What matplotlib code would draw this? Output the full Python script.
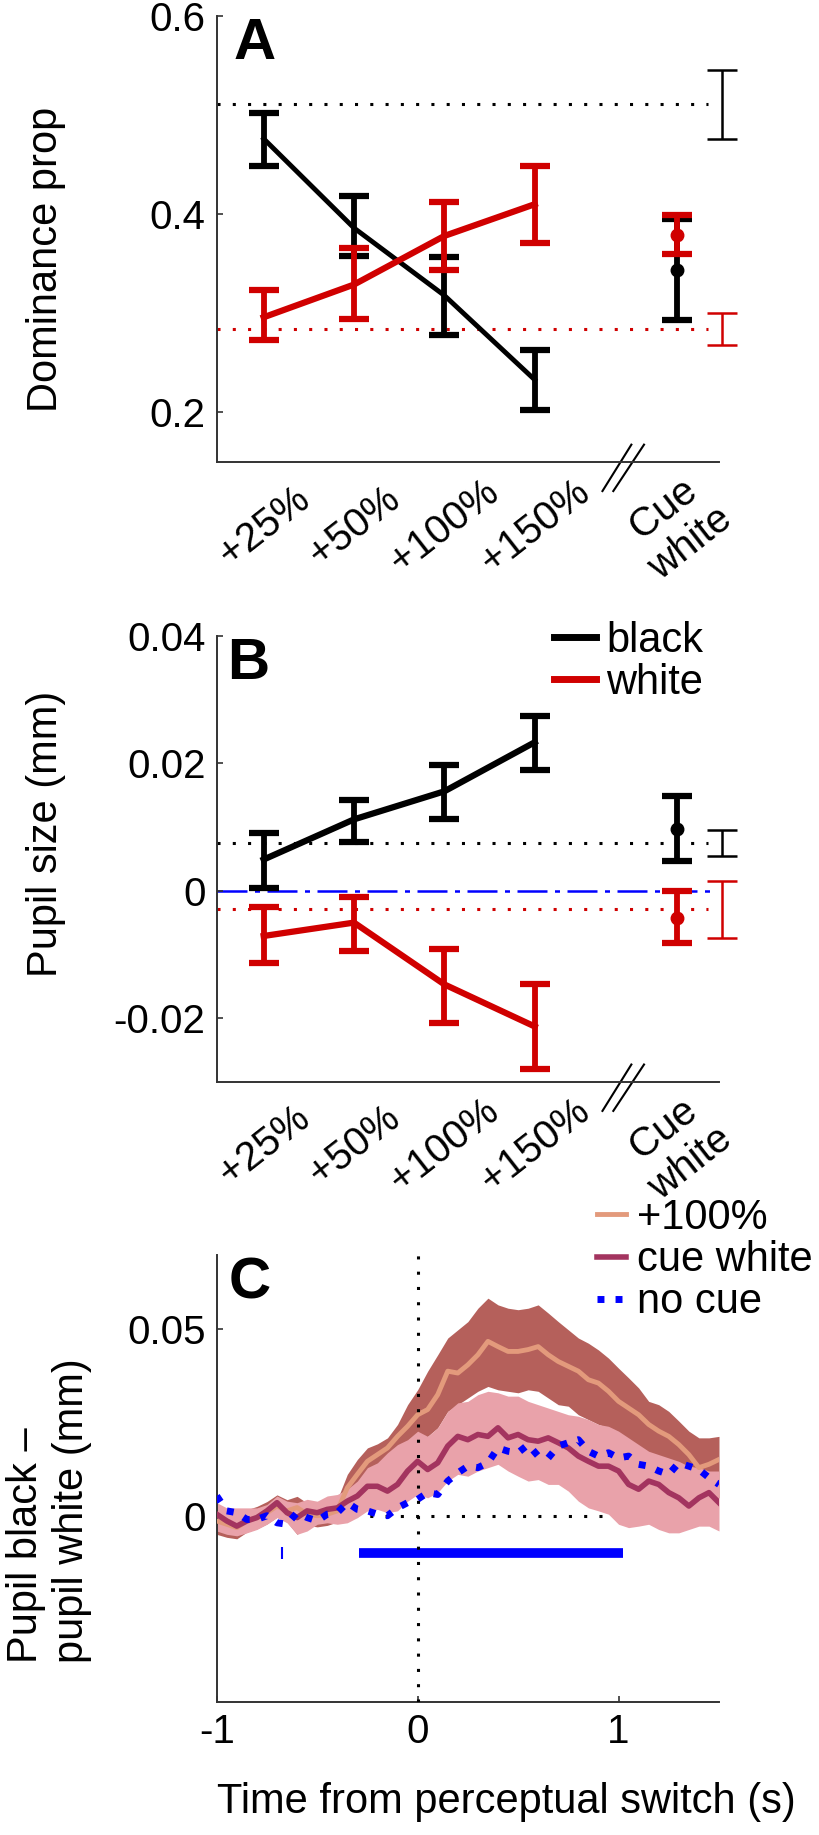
import numpy as np
import matplotlib
matplotlib.use('Agg')
import matplotlib.pyplot as plt
import matplotlib.transforms as mtransforms
from matplotlib.lines import Line2D

plt.rcParams['font.family'] = ['Liberation Sans', 'DejaVu Sans']

# ---- data ----
cats = ['+25%', '+50%', '+100%', '+150%', 'Cue\nwhite']

# A: dominance proportion (mean, lower, upper)
domBlack = [0.476, 0.386, 0.318, 0.233]
domBlackLo = [0.449, 0.358, 0.278, 0.2025]
domBlackHi = [0.502, 0.418, 0.357, 0.263]
domRed = [0.296, 0.329, 0.378, 0.410]
domRedLo = [0.273, 0.294, 0.344, 0.371]
domRedHi = [0.323, 0.366, 0.412, 0.449]
domCueBlack = [0.344, 0.293, 0.395]
domCueRed = [0.379, 0.360, 0.399]
domRefBlack = [0.511, 0.476, 0.545]
domRefRed = [0.284, 0.268, 0.300]

# B: pupil size (mm)
pupBlack = [0.0049, 0.0112, 0.0156, 0.0233]
pupBlackLo = [0.0005, 0.0076, 0.0112, 0.0190]
pupBlackHi = [0.0091, 0.0142, 0.0198, 0.0274]
pupRed = [-0.0071, -0.0050, -0.0147, -0.0213]
pupRedLo = [-0.0114, -0.0095, -0.0208, -0.0280]
pupRedHi = [-0.0026, -0.0010, -0.0091, -0.0147]
pupCueBlack = [0.0097, 0.0046, 0.0148]
pupCueRed = [-0.0043, -0.0082, -0.0001]
pupRefBlack = [0.0075, 0.0055, 0.0095]
pupRefRed = [-0.0029, -0.0074, 0.0016]

# C: time courses, 0.05 s steps from -1 to 1.5 s
t = np.round(np.arange(-1, 1.5001, 0.05), 2)
hund = [-0.0014, -0.0023, -0.0032, -0.0014, -0.0005, 0.0008, 0.0026, 0.0013, 0.0022, 0.0004,
        0.0000, 0.0004, 0.0013, 0.0075, 0.0111, 0.0146, 0.0164, 0.0182, 0.0213, 0.0240,
        0.0271, 0.0285, 0.0325, 0.0388, 0.0383, 0.0405, 0.0432, 0.0468, 0.0454, 0.0441,
        0.0441, 0.0446, 0.0454, 0.0432, 0.0414, 0.0401, 0.0388, 0.0365, 0.0356, 0.0334,
        0.0307, 0.0289, 0.0271, 0.0245, 0.0227, 0.0213, 0.0191, 0.0164, 0.0129, 0.0138, 0.0151]
hundHi = [0.0016, 0.0007, -0.0002, 0.0016, 0.0025, 0.0038, 0.0056, 0.0043, 0.0052, 0.0034,
          0.0030, 0.0034, 0.0043, 0.0111, 0.0151, 0.0182, 0.0193, 0.0209, 0.0245, 0.0298,
          0.0338, 0.0388, 0.0432, 0.0477, 0.0499, 0.0521, 0.0557, 0.0584, 0.0566, 0.0557,
          0.0553, 0.0557, 0.0566, 0.0544, 0.0521, 0.0499, 0.0477, 0.0463, 0.0445, 0.0423,
          0.0396, 0.0370, 0.0343, 0.0307, 0.0298, 0.0280, 0.0254, 0.0227, 0.0209, 0.0209, 0.0213]
hundLo = [-0.0050, -0.0058, -0.0062, -0.0044, -0.0035, -0.0022, -0.0004, -0.0017, -0.0050, -0.0026,
          -0.0030, -0.0026, -0.0017, 0.0039, 0.0075, 0.0084, 0.0093, 0.0102, 0.0129, 0.0164,
          0.0200, 0.0213, 0.0236, 0.0280, 0.0298, 0.0316, 0.0334, 0.0347, 0.0338, 0.0334,
          0.0330, 0.0338, 0.0334, 0.0316, 0.0298, 0.0294, 0.0271, 0.0258, 0.0245, 0.0236,
          0.0218, 0.0182, 0.0164, 0.0146, 0.0129, 0.0111, 0.0093, 0.0075, 0.0057, 0.0048, 0.0048]
cue = [0.0004, -0.0014, -0.0028, -0.0014, -0.0005, 0.0013, 0.0035, 0.0008, -0.0005, 0.0013,
       0.0008, 0.0017, 0.0021, 0.0039, 0.0053, 0.0079, 0.0079, 0.0066, 0.0084, 0.0120,
       0.0146, 0.0124, 0.0142, 0.0187, 0.0213, 0.0204, 0.0218, 0.0213, 0.0236, 0.0209,
       0.0218, 0.0204, 0.0200, 0.0209, 0.0196, 0.0182, 0.0160, 0.0146, 0.0133, 0.0133,
       0.0120, 0.0084, 0.0071, 0.0093, 0.0084, 0.0062, 0.0048, 0.0026, 0.0048, 0.0062, 0.0035]
cueHi = [0.0035, 0.0021, 0.0021, 0.0021, 0.0021, 0.0030, 0.0053, 0.0039, 0.0035, 0.0044,
         0.0039, 0.0053, 0.0057, 0.0071, 0.0093, 0.0129, 0.0142, 0.0169, 0.0191, 0.0204,
         0.0227, 0.0213, 0.0236, 0.0280, 0.0303, 0.0307, 0.0325, 0.0334, 0.0330, 0.0321,
         0.0321, 0.0307, 0.0298, 0.0289, 0.0280, 0.0271, 0.0267, 0.0258, 0.0245, 0.0240,
         0.0227, 0.0209, 0.0191, 0.0173, 0.0164, 0.0155, 0.0146, 0.0133, 0.0129, 0.0120, 0.0120]
cueLo = [-0.0041, -0.0050, -0.0054, -0.0046, -0.0037, -0.0023, -0.0005, -0.0019, -0.0050, -0.0041,
         -0.0023, -0.0019, -0.0023, -0.0019, -0.0005, 0.0013, 0.0017, 0.0008, 0.0013, 0.0039,
         0.0057, 0.0048, 0.0062, 0.0093, 0.0111, 0.0106, 0.0120, 0.0129, 0.0138, 0.0120,
         0.0106, 0.0093, 0.0097, 0.0084, 0.0084, 0.0066, 0.0039, 0.0021, 0.0013, 0.0004,
         -0.0023, -0.0032, -0.0028, -0.0023, -0.0037, -0.0046, -0.0046, -0.0037, -0.0028, -0.0028, -0.0041]
nocue = [0.0053, 0.0013, 0.0008, -0.0010, -0.0010, 0.0000, -0.0019, -0.0023, 0.0008, -0.0005,
         -0.0014, 0.0004, 0.0008, 0.0035, 0.0017, 0.0013, 0.0004, 0.0000, 0.0021, 0.0035,
         0.0044, 0.0062, 0.0057, 0.0093, 0.0115, 0.0133, 0.0129, 0.0142, 0.0182, 0.0173,
         0.0169, 0.0191, 0.0160, 0.0155, 0.0187, 0.0196, 0.0204, 0.0173, 0.0160, 0.0169,
         0.0155, 0.0160, 0.0138, 0.0133, 0.0120, 0.0111, 0.0142, 0.0133, 0.0124, 0.0102, 0.0084]
sigSpan = [-0.29, 1.02]
sigSingle = -0.677
sigLevel = -0.01

# ---- figure ----
fig = plt.figure(figsize=(8.19, 18.35), dpi=100)
L, W = 0.2646, 0.6133
axA = fig.add_axes([L, 0.7482, W, 0.2432])
axB = fig.add_axes([L, 0.4104, W, 0.2431])
axC = fig.add_axes([L, 0.0725, W, 0.2436])

RED = '#D00000'
BLUE = '#0000FF'
DOT = (0, (1, 4))
FS = 29


def style(ax):
    for s in ['top', 'right']:
        ax.spines[s].set_visible(False)
    for s in ['left', 'bottom']:
        ax.spines[s].set_linewidth(1.4)
        ax.spines[s].set_color('#333333')
    ax.tick_params(direction='in', length=4, width=1.2, color='#333333',
                   labelsize=FS, pad=8)


def cond_panel(ax, blk, blkLo, blkHi, red, redLo, redHi, cueB, cueR, refB, refR, blw):
    x = np.arange(1, len(blk) + 1)
    cx = 5.57
    blk, red = np.array(blk), np.array(red)
    eb_kw = dict(elinewidth=4.2, capsize=11, capthick=4.5)
    ax.errorbar(x, blk, yerr=[blk - blkLo, np.array(blkHi) - blk], color='k',
                lw=blw, zorder=3, **eb_kw)
    ax.errorbar(cx, cueB[0], yerr=[[cueB[0] - cueB[1]], [cueB[2] - cueB[0]]],
                color='k', marker='o', ms=9, zorder=3, **eb_kw)
    ax.errorbar(x, red, yerr=[red - redLo, np.array(redHi) - red], color=RED,
                lw=4.5, zorder=4, **eb_kw)
    ax.errorbar(cx, cueR[0], yerr=[[cueR[0] - cueR[1]], [cueR[2] - cueR[0]]],
                color=RED, marker='o', ms=9, zorder=4, **eb_kw)
    for ref, c in [(refB, 'k'), (refR, RED)]:
        ax.plot([0.48, 5.92], [ref[0], ref[0]], color=c, ls=DOT, lw=2.2, zorder=2)
        eb = ax.errorbar(6.07, ref[0], yerr=[[ref[0] - ref[1]], [ref[2] - ref[0]]],
                         color=c, lw=1.8, capsize=11, capthick=1.8)
        for a in eb.get_children():
            a.set_clip_on(False)
    ax.set_xlim(0.48, 6.04)
    ax.set_xticks(list(x) + [cx])
    ax.set_xticklabels(cats, rotation=38, ha='center', va='center',
                       rotation_mode='anchor', fontsize=FS)
    ax.tick_params(axis='x', length=0, pad=46)
    # axis break mark
    tr = mtransforms.blended_transform_factory(ax.transData, ax.transAxes)
    for x0, x1 in [(4.75, 5.07), (4.87, 5.21)]:
        ax.plot([x0, x1], [-0.065, 0.039], color='k', lw=1.5, transform=tr, clip_on=False)


for ax in [axA, axB, axC]:
    style(ax)

# A
cond_panel(axA, domBlack, domBlackLo, domBlackHi, domRed, domRedLo, domRedHi,
           domCueBlack, domCueRed, domRefBlack, domRefRed, 3.5)
axA.set_ylim(0.15, 0.6)
axA.set_yticks([0.2, 0.4, 0.6])
axA.set_yticklabels(['0.2', '0.4', '0.6'])
axA.set_ylabel('Dominance prop', fontsize=30, va='center')
axA.yaxis.set_label_coords(-0.34, 0.455)

# B
axB.axhline(0, xmin=0, xmax=0.985, color=BLUE, lw=1.8, ls=(0, (12, 3, 2, 3)), zorder=1)
cond_panel(axB, pupBlack, pupBlackLo, pupBlackHi, pupRed, pupRedLo, pupRedHi,
           pupCueBlack, pupCueRed, pupRefBlack, pupRefRed, 4.5)
axB.set_ylim(-0.03, 0.04)
axB.set_yticks([-0.02, 0, 0.02, 0.04])
axB.set_yticklabels(['-0.02', '0', '0.02', '0.04'])
axB.set_ylabel('Pupil size (mm)', fontsize=30, va='center')
axB.yaxis.set_label_coords(-0.34, 0.556)
hB = [Line2D([], [], color='k', lw=5), Line2D([], [], color=RED, lw=5)]
axB.legend(hB, ['black', 'white'], loc='upper left', bbox_to_anchor=(554 / 819, 1 - 621 / 1835),
           bbox_transform=fig.transFigure, frameon=False, fontsize=30, handlelength=1.0,
           handletextpad=0.25, labelspacing=0.05, borderpad=0, borderaxespad=0)

# C
axC.fill_between(t, hundLo, hundHi, color='#B5605B', lw=0, zorder=1)
axC.fill_between(t, cueLo, cueHi, color='#E9A2AA', lw=0, zorder=2)
axC.plot(t, hund, color='#E39A7C', lw=3.5, zorder=3, label='+100%')
axC.plot(t, cue, color='#A3345F', lw=4, zorder=4, label='cue white')
axC.plot(t, nocue, color=BLUE, lw=5, ls=(0, (1, 1.6)), zorder=5, label='no cue')
axC.plot(sigSpan, [sigLevel, sigLevel], color=BLUE, lw=7, solid_capstyle='butt', zorder=5)
axC.plot([sigSingle], [sigLevel], color=BLUE, marker='|', ms=9, mew=1.5, zorder=5)
axC.axvline(0, color='k', ls=DOT, lw=2.2, zorder=6)
axC.axhline(0, color='k', ls=DOT, lw=2.2, zorder=0.5)
axC.set_xlim(-1, 1.5)
axC.set_ylim(-0.05, 0.07)
axC.set_xticks([-1, 0, 1])
axC.set_xticklabels(['-1', '0', '1'])
axC.set_yticks([0, 0.05])
axC.set_yticklabels(['0', '0.05'])
axC.set_xlabel('Time from perceptual switch (s)', fontsize=30)
axC.xaxis.set_label_coords(0.576, -0.18)
axC.set_ylabel('Pupil black \u2013\npupil white (mm)', fontsize=30, va='center', multialignment='left')
axC.yaxis.set_label_coords(-0.334, 0.427)
axC.legend(loc='upper left', bbox_to_anchor=(597 / 819, 1 - 1198 / 1835),
           bbox_transform=fig.transFigure, frameon=False, fontsize=30, handlelength=0.7,
           handletextpad=0.25, labelspacing=0.05, borderpad=0, borderaxespad=0)

# panel letters
for ax, letter, xl in [(axA, 'A', 0.034), (axB, 'B', 0.02), (axC, 'C', 0.024)]:
    ax.text(xl, 0.903, letter, transform=ax.transAxes, fontsize=42, fontweight='bold',
            va='baseline', ha='left', zorder=10)

fig.savefig('out.png', dpi=100)
